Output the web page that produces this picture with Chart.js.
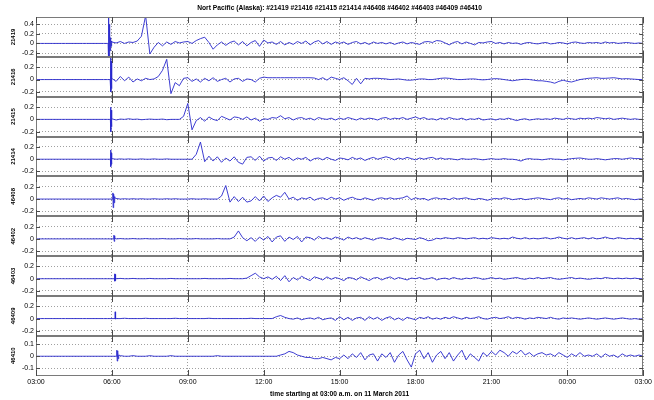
<!DOCTYPE html>
<html>
<head>
<meta charset="utf-8">
<script src="https://cdn.jsdelivr.net/npm/chart.js@4/dist/chart.umd.min.js"></script>
<style>
  body { margin: 0; background: #fff; }
  #wrap { position: relative; width: 654px; height: 400px; }
</style>
</head>
<body>
<div id="wrap"><canvas id="chart"></canvas></div>
<script>
// DART stations, top to bottom
const stations = ['21419', '21416', '21415', '21414', '46408', '46402', '46403', '46409', '46410'];

// sea level anomaly (m), one value every 10 minutes from 03:00 to 03:00 next day
const s21419 = [
  0, 0, 0, 0, 0, 0, 0, 0, 0, 0, 0, 0,
  0, 0, 0, 0, 0, 0, 0.03, 0.01, 0.04, 0, 0.03, 0.02,
  0.05, 0.15, 0.58, -0.22, -0.08, 0.02, -0.05, 0.03, -0.02, 0.04, 0.01, 0.03,
  0.04, 0, 0.06, 0.1, 0.13, 0.02, -0.12, -0.03, 0.03, -0.04, 0.02, 0.05,
  -0.03, 0.04, -0.05, 0.02, 0.06, -0.06, 0.07, 0.01, 0.03, -0.02, 0.04, -0.03,
  0.02, -0.02, 0.04, 0, 0.05, -0.03, 0.03, 0.06, -0.01, 0.04, -0.02, 0.03,
  0, 0.03, -0.02, 0.02, 0.04, -0.01, 0.02, -0.02, 0.03, 0, 0.02, -0.01,
  0.02, -0.02, 0.01, 0.03, -0.01, 0.02, 0, -0.02, 0.03, 0.04, 0.02, 0.06,
  0.05, 0.01, -0.03, 0.02, 0.04, -0.01, 0.03, 0, -0.03, 0.02, 0.01, 0.03,
  0.04, 0, 0.02, -0.01, 0.02, 0, 0.01, -0.02, 0.01, 0.02, 0, -0.01,
  0.01, 0.02, -0.01, 0, 0.02, 0.01, -0.01, 0.02, 0.03, 0.01, 0, 0.02,
  0.01, 0.02, 0, 0.03, 0.01, 0.02, 0, 0.01, 0.02, 0.01, 0, 0.01, 0
];
const s21416 = [
  0, 0, 0, 0, 0, 0, 0, 0, 0, 0, 0, 0,
  0, 0, 0, 0, 0, 0, 0.02, -0.03, 0.05, -0.02, 0.04, -0.04,
  0.01, -0.02, 0.02, 0, 0.01, 0.05, 0.15, 0.33, -0.23, -0.05, -0.1, 0.02,
  0.03, -0.03, 0.01, -0.04, 0.02, -0.02, 0.03, -0.03, 0, 0.02, -0.04, 0.01,
  0.02, -0.03, 0.01, 0, -0.04, 0.02, 0.04, 0.03, 0.03, 0.03, 0.03, 0.03,
  0.03, 0.03, 0.03, 0.03, 0.03, 0.03, 0.025, 0, 0.03, -0.01, 0.04, 0.02,
  0, 0.03, -0.02, -0.08, 0.02, -0.07, 0.02, 0.01, 0.02, 0.02, 0.015, 0.01,
  0, 0.005, 0.01, 0, -0.01, -0.01, 0, 0.01, 0.01, 0, 0, 0.01,
  0.02, 0.025, 0.02, 0.01, 0, 0, 0.005, 0.01, 0.01, 0, -0.005, 0,
  0.01, 0.015, 0.01, 0, -0.01, -0.02, -0.01, 0, 0.005, 0, -0.01, -0.02,
  -0.02, -0.03, -0.04, -0.06, -0.03, -0.01, -0.03, -0.04, -0.02, 0, 0.01, 0.02,
  0.025, 0.03, 0.02, 0.02, 0.025, 0.03, 0.02, 0.01, 0.015, 0.01, 0.005, 0, 0
];
const s21415 = [
  0, 0, 0, 0, 0, 0, 0, 0, 0, 0, 0, 0,
  0, 0, 0, 0, 0, 0, 0.01, -0.01, 0.005, 0, 0.01, 0,
  0.005, -0.005, 0, 0.005, 0, 0, 0.005, -0.005, 0, 0, 0, 0.05,
  0.26, -0.17, -0.02, 0.03, -0.03, 0.04, 0, -0.02, 0.05, 0.02, -0.01, 0.04,
  0.03, 0, 0.04, -0.01, 0.02, -0.03, 0.01, 0, 0.03, 0.02, 0.06, 0.01,
  0.03, -0.01, 0.02, 0.03, 0, 0.02, -0.01, 0.03, 0.01, 0, 0.02, -0.01,
  0.02, 0, 0.03, 0.01, -0.01, 0.02, 0, 0.02, 0.01, -0.01, 0.02, 0.03,
  0, 0.02, 0.01, 0.03, 0, 0.02, 0.04, 0.01, 0.03, 0, 0.01, -0.01,
  0.02, 0, 0.03, 0.01, 0, 0.02, -0.01, 0.01, 0, 0.02, -0.01, 0,
  0.01, -0.01, 0.01, 0, 0.02, 0, -0.02, 0, 0.01, -0.01, 0, 0.01,
  0, 0.01, 0, 0.02, 0.01, 0, 0.02, 0.01, 0, 0.02, 0.01, 0.02,
  0.01, 0.03, 0.02, 0.01, 0.02, 0, 0.01, 0.02, 0.01, 0, 0.01, 0, 0
];
const s21414 = [
  0, 0, 0, 0, 0, 0, 0, 0, 0, 0, 0, 0,
  0, 0, 0, 0, 0, 0, 0.01, 0, 0.005, 0, 0.005, 0,
  0, 0.005, 0, 0, 0.005, 0, 0, 0.005, 0, 0, 0, 0,
  0, 0, 0.08, 0.28, -0.04, 0.05, -0.03, 0.04, -0.05, 0.02, -0.03, 0.04,
  -0.05, -0.08, 0.03, 0.04, -0.02, 0.05, -0.03, 0.02, 0.03, -0.02, 0.04, 0,
  0.03, -0.02, 0.02, 0, 0.03, -0.03, 0.01, 0.02, -0.01, 0.03, 0, -0.02,
  0.02, 0.01, -0.01, 0.03, 0, 0.02, -0.02, 0.01, 0.03, 0, 0.02, 0.04,
  0.02, -0.01, 0.02, 0, 0.03, 0.01, -0.01, 0.02, 0, 0.02, 0.03, 0,
  0.02, 0, 0.01, 0, -0.01, 0.01, 0, 0, 0.01, 0, -0.01, 0,
  0.01, 0, 0, 0.01, 0, 0, -0.01, -0.03, 0, 0.01, 0, 0,
  -0.01, 0, 0.01, 0, 0, -0.01, 0, 0.01, 0.015, 0.02, 0.01, 0,
  0, 0.01, 0, -0.01, 0, 0.01, 0.01, 0, 0.01, 0.02, 0.01, 0.01, 0
];
const s46408 = [
  0, 0, 0, 0, 0, 0, 0, 0, 0, 0, 0, 0,
  0, 0, 0, 0, 0, 0, 0, 0.01, 0, 0.005, 0, 0.005,
  0, 0.005, 0, 0, 0.005, 0, 0, 0.005, 0, 0.005, 0, 0,
  0, 0.005, 0, 0, 0.005, 0, 0, 0, 0.05, 0.22, -0.05, 0.04,
  -0.04, 0.03, -0.05, -0.03, 0.04, -0.03, 0.05, -0.04, 0.02, 0.06, 0.03, 0.11,
  0, 0.03, -0.02, 0.02, 0, 0.03, -0.02, 0.01, 0.02, -0.01, 0.03, 0,
  0.02, -0.02, 0.01, 0.03, 0, -0.01, 0.02, 0, -0.02, 0.01, 0.02, 0,
  0.02, 0, 0.01, 0.02, 0.05, -0.01, 0.02, 0, 0.01, -0.02, 0.01, 0.02,
  0, 0.01, -0.01, 0.02, 0, 0.01, 0.02, 0, -0.01, 0.01, 0, -0.02,
  0, 0.01, 0, 0.02, 0.01, -0.01, 0, 0.01, -0.01, 0, 0.01, 0.02,
  0.01, 0, -0.01, 0.01, 0.02, 0, 0.01, -0.01, 0, 0.01, 0, 0.02,
  0.01, 0, 0.02, 0.01, 0, 0.01, 0.02, 0, 0.01, 0, -0.01, 0, 0
];
const s46402 = [
  0, 0, 0, 0, 0, 0, 0, 0, 0, 0, 0, 0,
  0, 0, 0, 0, 0, 0, 0, 0, 0.005, 0, 0, 0.005,
  0, 0, 0.005, 0, 0, 0, 0.005, 0, 0, 0, 0.005, 0,
  0, 0, 0.005, 0, 0, 0, 0, 0.005, 0, 0, 0, 0.03,
  0.13, 0.02, -0.03, 0.02, -0.04, 0.03, -0.02, 0.04, -0.05, 0.03, 0.05, -0.04,
  0.03, -0.01, 0.04, -0.05, 0.03, 0.02, -0.02, 0.04, 0, 0.02, -0.01, 0.03,
  0.01, -0.02, 0.03, 0, 0.02, -0.01, 0.02, 0, -0.02, 0.01, 0.02, 0,
  -0.01, 0.02, 0, -0.02, 0.01, 0, -0.01, 0.02, 0, -0.03, -0.02, 0.01,
  0, 0.02, 0.01, 0, 0.02, 0.01, 0, 0.01, 0.02, 0, 0.01, 0,
  0.02, 0.01, 0, 0.01, 0, 0.03, 0.01, 0, 0.02, 0, 0.01, 0,
  0.01, 0.02, 0, 0.01, 0.03, 0.01, 0, 0.02, 0, 0.01, 0.02, 0,
  0.02, 0, 0.01, 0.03, 0.01, 0, 0.02, 0.01, 0, 0.01, 0, 0.01, 0
];
const s46403 = [
  0, 0, 0, 0, 0, 0, 0, 0, 0, 0, 0, 0,
  0, 0, 0, 0, 0, 0, 0, 0, 0.005, 0, 0, 0.005,
  0, 0, 0, 0.005, 0, 0, 0, 0, 0.005, 0, 0, 0,
  0, 0, 0, 0, 0.005, 0, 0, 0, 0, 0, 0.005, 0,
  0, 0, 0.01, 0.05, 0.09, 0.03, 0, 0.03, -0.01, 0.04, -0.03, 0.05,
  -0.05, 0.02, -0.02, 0.04, 0, -0.03, 0.03, 0.01, -0.02, 0.03, -0.01, 0.02,
  0, -0.03, 0.02, 0.01, -0.02, 0.03, 0, -0.03, 0.01, 0.02, -0.02, 0.01,
  0.03, -0.01, 0.02, 0, -0.02, 0.01, 0, 0.02, -0.01, 0, 0.02, -0.02,
  0, 0.01, -0.01, 0.02, 0, -0.01, 0.01, 0, 0.02, 0.01, -0.01, 0,
  0.02, 0, 0.01, -0.01, 0, 0.01, 0.02, 0, -0.01, 0.01, 0, 0.02,
  0, 0.01, 0.02, 0, -0.01, 0, 0.01, 0.02, 0, 0.01, 0, -0.01,
  0, 0.01, 0, 0.02, 0.01, 0, 0.01, 0, 0.01, 0, 0.01, 0, 0
];
const s46409 = [
  0, 0, 0, 0, 0, 0, 0, 0, 0, 0, 0, 0,
  0, 0, 0, 0, 0, 0, 0, 0, 0, 0.005, 0, 0,
  0, 0, 0.005, 0, 0, 0, 0, 0, 0, 0.005, 0, 0,
  0, 0, 0, 0, 0, 0.005, 0, 0, 0, 0, 0, 0,
  0, 0, 0, 0.005, 0, 0, 0, 0, 0, 0.03, 0.05, 0.02,
  0, -0.01, 0.01, -0.02, 0, 0.01, -0.01, 0.02, -0.02, 0, 0.01, -0.03,
  0.03, -0.02, 0.02, -0.03, 0.01, 0.02, -0.03, 0.03, -0.01, 0.02, -0.03, 0.01,
  0.03, -0.02, 0.01, -0.03, 0.02, 0, -0.02, 0.02, 0, 0.03, -0.01, 0.01,
  -0.01, 0.02, 0, 0.03, 0.01, -0.01, 0.02, 0, 0.01, 0.03, 0, -0.01,
  0.01, 0.02, 0, 0.01, 0.03, 0, 0.02, 0.01, -0.01, 0.01, 0, 0.02,
  0.01, 0, 0.02, 0, -0.01, 0.01, 0, 0.01, 0, -0.01, 0, 0.01,
  0, -0.01, 0, 0.01, 0, -0.01, 0, 0.01, 0, -0.01, 0, -0.01, 0
];
const s46410 = [
  0, 0, 0, 0, 0, 0, 0, 0, 0, 0, 0, 0,
  0, 0, 0, 0, 0, 0, 0, 0, 0.005, 0, 0, 0.005,
  0, 0, 0, 0.005, 0, 0, 0, 0, 0.005, 0, 0, 0,
  0, 0, 0, 0, 0, 0, 0, 0.005, 0, 0, 0, 0,
  0, 0, 0, 0, 0, 0, 0, 0, 0, 0, 0.01, 0.02,
  0.04, 0.03, 0.01, 0, -0.01, -0.01, -0.02, -0.02, -0.01, -0.02, -0.03, -0.01,
  -0.02, 0.01, -0.02, 0.02, -0.01, 0.03, -0.03, 0.01, 0.02, -0.04, 0.02, -0.01,
  0.03, -0.05, 0.01, 0.04, -0.03, -0.09, 0.02, 0.05, -0.02, 0.03, -0.05, 0.01,
  0.04, -0.02, 0.03, -0.04, 0.01, 0.05, -0.03, 0.02, -0.01, -0.04, 0.03, 0,
  0.04, 0.01, 0.05, 0.03, 0, 0.04, 0.02, 0.05, 0.01, 0.03, 0, 0.02,
  0.03, 0.01, 0.02, 0, 0.03, 0.01, -0.01, 0.02, 0, 0.03, 0, 0.01,
  0, 0.02, -0.01, 0.02, 0, 0.01, -0.01, 0.02, 0, 0.01, 0, 0.01, 0
];

// seismic bursts right after the quake: [hours after 03:00, value]
const b21419 = [[2.85, 0], [2.86, 0.7], [2.87, -0.4], [2.88, 0.6], [2.89, -0.35], [2.9, 0.4], [2.91, -0.2], [2.92, 0.2], [2.93, -0.15], [2.94, 0.12], [2.95, -0.1], [2.96, 0.08], [2.97, -0.06], [2.98, 0.05], [2.99, -0.03]];
const b21416 = [[2.93, 0], [2.95, 0.4], [2.96, -0.2], [2.97, 0.3], [2.98, -0.15], [2.99, 0.12], [2.995, -0.1]];
const b21415 = [[2.94, 0], [2.95, 0.2], [2.96, -0.2], [2.97, 0.15], [2.98, -0.12], [2.99, 0.08], [2.995, -0.05]];
const b21414 = [[2.94, 0], [2.95, 0.15], [2.96, -0.12], [2.97, 0.1], [2.98, -0.08], [2.99, 0.05], [2.995, -0.03]];
const b46408 = [[3.03, 0], [3.04, 0.1], [3.05, -0.14], [3.06, 0.08], [3.07, -0.1], [3.08, 0.07], [3.09, -0.06], [3.1, 0.04], [3.11, -0.03], [3.12, 0.02]];
const b46402 = [[3.07, 0], [3.08, 0.06], [3.09, -0.04], [3.1, 0.05], [3.11, -0.03], [3.12, 0.02]];
const b46403 = [[3.1, 0], [3.11, 0.08], [3.12, -0.04], [3.13, 0.07], [3.14, -0.03], [3.15, 0.02]];
const b46409 = [[3.12, 0], [3.13, 0.11], [3.14, -0.01], [3.15, 0.02]];
const b46410 = [[3.19, 0], [3.2, 0.05], [3.21, -0.04], [3.22, 0.045], [3.23, -0.03], [3.24, 0.03], [3.25, -0.02], [3.27, 0.01]];

const series = [s21419, s21416, s21415, s21414, s46408, s46402, s46403, s46409, s46410];
const bursts = [b21419, b21416, b21415, b21414, b46408, b46402, b46403, b46409, b46410];

// axis ranges and ticks per panel
const yMin = [-0.28, -0.28, -0.28, -0.28, -0.28, -0.28, -0.28, -0.28, -0.16];
const yMax = [0.55, 0.37, 0.37, 0.37, 0.37, 0.37, 0.37, 0.37, 0.17];
const yTicks = [
  [-0.2, 0, 0.2, 0.4], [-0.2, 0, 0.2], [-0.2, 0, 0.2], [-0.2, 0, 0.2], [-0.2, 0, 0.2],
  [-0.2, 0, 0.2], [-0.2, 0, 0.2], [-0.2, 0, 0.2], [-0.1, 0, 0.1]
];
const xTickHours = [0, 3, 6, 9, 12, 15, 18, 21, 24];
const xTickLabels = ['03:00', '06:00', '09:00', '12:00', '15:00', '18:00', '21:00', '00:00', '03:00'];
const samplesPerHour = 6;

Chart.defaults.font.family = "'Liberation Sans', Arial, sans-serif";
Chart.defaults.color = '#000';

function buildPoints(values, burst) {
  const pts = values.map((v, i) => ({x: i / samplesPerHour, y: v}));
  burst.forEach(([t, v]) => pts.push({x: t, y: v}));
  return pts.sort((a, b) => a.x - b.x);
}

const datasets = stations.map((name, i) => ({
  label: name,
  data: buildPoints(series[i], bursts[i]),
  yAxisID: 'y' + i,
  borderColor: 'rgb(40,40,205)',
  borderWidth: 0.9,
  pointRadius: 0,
  tension: 0,
  parsing: false
}));

const scales = {
  x: {
    type: 'linear',
    min: 0,
    max: 24,
    afterBuildTicks: s => { s.ticks = xTickHours.map(v => ({value: v})); },
    ticks: {
      autoSkip: false, maxRotation: 0, padding: 2,
      font: {size: 7},
      callback: (v, idx) => xTickLabels[idx]
    },
    grid: {color: '#9a9a9a', drawTicks: false},
    border: {display: false, dash: [1, 2]},
    title: {
      display: true,
      text: 'time starting at 03:00 a.m. on 11 March 2011',
      font: {size: 6.7, weight: 'bold'},
      padding: {top: 2, bottom: 1}
    }
  }
};

stations.forEach((name, i) => {
  scales['y' + i] = {
    type: 'linear',
    position: 'left',
    stack: 'panels',
    stackWeight: 1,
    weight: stations.length - i,
    min: yMin[i],
    max: yMax[i],
    afterBuildTicks: s => { s.ticks = yTicks[i].map(v => ({value: v})); },
    afterFit: s => { s.width = 36; },
    ticks: {font: {size: 7}, padding: 2, autoSkip: false, callback: v => String(v)},
    grid: {color: '#a0a0a0', drawTicks: false},
    border: {display: false, dash: [1, 2]},
    title: {
      display: true, text: name,
      font: {size: 6, weight: 'bold'},
      padding: {top: 10, bottom: 0}
    }
  };
});

// clip each trace to its own panel, then draw panel frames and inward ticks
const panelFrames = {
  id: 'panelFrames',
  beforeDatasetDraw(chart, args) {
    const ys = chart.scales[args.meta.yAxisID];
    const a = chart.chartArea;
    chart.ctx.save();
    chart.ctx.beginPath();
    chart.ctx.rect(a.left, ys.top, a.right - a.left, ys.bottom - ys.top);
    chart.ctx.clip();
  },
  afterDatasetDraw(chart) {
    chart.ctx.restore();
  },
  afterDraw(chart) {
    const ctx = chart.ctx, a = chart.chartArea, xs = chart.scales.x;
    ctx.save();
    ctx.lineWidth = 1;
    stations.forEach((name, i) => {
      const ys = chart.scales['y' + i];
      const t = Math.round(ys.top), b = Math.round(ys.bottom);
      ctx.strokeStyle = '#7a7a7a';
      ctx.strokeRect(Math.round(a.left) + 0.5, t + 0.5, Math.round(a.right - a.left) - 1, b - t - 1);
      ctx.strokeStyle = '#4a4a4a';
      ctx.beginPath();
      xs.ticks.forEach(tk => {
        const px = Math.round(xs.getPixelForValue(tk.value)) + 0.5;
        ctx.moveTo(px, t); ctx.lineTo(px, t + 6);
        ctx.moveTo(px, b); ctx.lineTo(px, b - 6);
      });
      ys.ticks.forEach(tk => {
        const py = Math.round(ys.getPixelForValue(tk.value)) + 0.5;
        ctx.moveTo(a.left, py); ctx.lineTo(a.left + 4, py);
        ctx.moveTo(a.right, py); ctx.lineTo(a.right - 4, py);
      });
      ctx.stroke();
    });
    ctx.restore();
  }
};

new Chart(document.getElementById('chart'), {
  type: 'line',
  data: {datasets},
  options: {
    responsive: true,
    maintainAspectRatio: false,
    animation: false,
    events: [],
    layout: {padding: {left: 0, right: 4, top: 0, bottom: 1}, autoPadding: false},
    plugins: {
      legend: {display: false},
      tooltip: {enabled: false},
      title: {
        display: true,
        fullSize: false,
        text: 'Nort Pacific (Alaska): #21419 #21416 #21415 #21414 #46408 #46402 #46403 #46409 #46410',
        font: {size: 6.7, weight: 'bold'},
        padding: {top: 4, bottom: 5}
      }
    },
    scales
  },
  plugins: [panelFrames]
});
</script>
</body>
</html>
